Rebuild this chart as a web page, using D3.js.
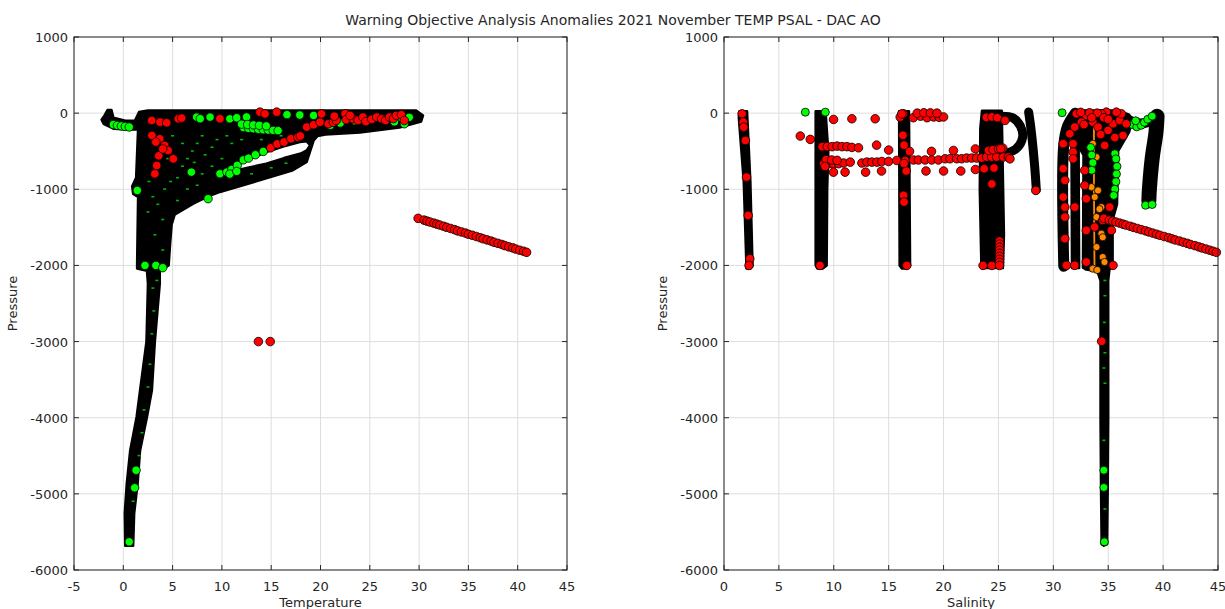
<!DOCTYPE html>
<html><head><meta charset="utf-8">
<script src="https://cdn.jsdelivr.net/npm/d3@7/dist/d3.min.js"></script>
<style>
body{margin:0;background:#fff;}
svg{display:block;}
text{font-family:"DejaVu Sans",sans-serif;fill:#262626;}
</style>
</head><body>
<svg id="c" width="1225" height="609"></svg>
<script>
// ---------------- DATA ----------------
const titleText = "Warning Objective Analysis Anomalies 2021 November TEMP PSAL - DAC AO";
const tempTicks = [-5,0,5,10,15,20,25,30,35,40,45];
const psalTicks = [0,5,10,15,20,25,30,35,40,45];
const presTicks = [1000,0,-1000,-2000,-3000,-4000,-5000,-6000];

// envelope of all TEMP profiles (black mass), [temperature, pressure]
const tempEnvelope = [[0.2,-5680],[0.15,-5250],[0.35,-4870],[0.7,-4430],[1.35,-3990],[1.7,-3640],[2.35,-3000],[2.5,-2240],[2.4,-2070],[1.4,-2040],[1.4,-1990],[1.5,-1100],[1.0,-1060],[0.9,-960],[1.3,-850],[1.5,-210],[0.5,-215],[-1.0,-205],[-2.0,-140],[-2.2,-85],[-1.9,-30],[-1.6,40],[-1.2,40],[-1.0,-60],[0.2,-100],[1.2,-95],[1.6,15],[2.5,35],[10,35],[20,35],[29.7,35],[30.4,-30],[30.2,-110],[28,-190],[24,-255],[20.5,-280],[19.7,-300],[19.3,-360],[18.6,-640],[17.2,-750],[13.9,-880],[9.8,-1035],[8.5,-1100],[7.1,-1190],[5.2,-1335],[4.9,-1465],[4.75,-1710],[4.6,-2000],[3.7,-2070],[3.7,-2240],[3.2,-3000],[2.9,-3640],[2.4,-3990],[1.7,-4430],[1.45,-4870],[1.1,-5260],[1.0,-5680]];
// empty lens between the two thermocline branches
const tempLens = [[9.4,-818],[10.5,-740],[11.8,-664],[13.2,-580],[14.5,-512],[16.2,-440],[17.9,-380],[18.6,-370],[18.95,-420],[18.6,-490],[18.0,-530],[16.3,-590],[14.5,-664],[12.5,-720],[11.0,-770],[9.9,-815]];

const tempRed = [[2.88,-96],[3.72,-118],[4.4,-127],[5.58,-74],[5.92,-65],[2.9,-293],[3.7,-337],[4.2,-425],[4.55,-490],[5.07,-600],[3.6,-560],[3.39,-687],[3.2,-797],[3.3,-380],[4.0,-470],[9.8,-74],[13.86,13],[14.37,-9],[15.56,13],[14.95,-455],[15.6,-405],[16.3,-380],[17.0,-336],[17.7,-315],[17.95,-300],[18.6,-183],[19.3,-153],[19.95,-118],[20.1,-9],[20.8,-140],[21.3,-120],[21.6,-95],[22.5,-9],[22.6,-85],[23.3,-75],[23.8,-95],[24.3,-52],[24.6,-110],[25.2,-80],[25.7,-52],[26.2,-75],[26.6,-95],[27.0,-52],[27.4,-70],[27.7,-30],[28.2,-21],[28.5,-96],[21.4,-40],[23.0,-30]];
const tempGreen = [[-1.0,-150],[-0.6,-160],[-0.2,-168],[0.2,-175],[0.6,-182],[1.42,-1015],[7.44,-52],[7.8,-73],[8.8,-52],[10.8,-75],[11.5,-60],[12.5,-50],[12.2,-190],[12.7,-200],[13.2,-205],[13.7,-212],[14.2,-218],[14.7,-222],[15.2,-226],[15.7,-230],[12.0,-145],[12.6,-150],[13.2,-155],[13.8,-160],[14.5,-168],[16.6,-20],[17.9,-25],[19.3,-30],[21.0,-160],[22.0,-130],[23.5,-100],[26.5,-80],[28.0,-50],[29.0,-55],[28.5,-140],[27.5,-115],[9.8,-796],[10.5,-774],[11.0,-738],[11.56,-686],[12.17,-614],[12.7,-591],[13.4,-547],[14.2,-503],[10.8,-800],[11.5,-765],[8.6,-1124],[6.9,-775],[2.2,-2000],[3.3,-2000],[4.0,-2030],[1.3,-4690],[1.15,-4920],[0.6,-5630]];
const tempGreenMinor = [[3.0,-1100],[3.5,-1200],[4.2,-1000],[4.8,-900],[5.5,-850],[6.0,-700],[6.5,-600],[7.0,-500],[7.5,-400],[8.0,-300],[5.0,-300],[6.0,-400],[7.2,-650],[8.3,-550],[9.0,-450],[9.5,-350],[10.5,-300],[11.0,-400],[12.0,-350],[8.0,-800],[9.0,-700],[10.0,-600],[6.5,-1000],[7.5,-950],[5.5,-1150],[4.0,-1400],[3.2,-1600],[4.0,-1800],[2.5,-1300],[3.5,-700],[2.6,-900],[4.5,-600],[13.0,-800],[15.0,-720],[16.5,-660],[14.0,-350],[16.0,-300],[3.0,-2300],[3.1,-2600],[2.9,-2900],[2.7,-3300],[2.5,-3600],[2.1,-3900],[1.9,-4200],[1.6,-4500],[1.0,-5100],[3.4,-2200]];
const tempRedDeep = [[13.7,-3000],[14.9,-3000]];

// one anomalous profile seen in both panels
const outlierPres = [-1382,-1405,-1418,-1430,-1445,-1458,-1470,-1486,-1500,-1515,-1530,-1546,-1560,-1575,-1590,-1604,-1620,-1636,-1650,-1665,-1680,-1696,-1710,-1725,-1740,-1756,-1770,-1785,-1800,-1814,-1828];
const outlierTemp = [29.9,30.5,30.8,31.1,31.5,31.8,32.1,32.5,32.8,33.2,33.6,33.9,34.3,34.7,35.0,35.4,35.8,36.2,36.5,36.9,37.3,37.6,38.0,38.4,38.7,39.1,39.5,39.8,40.2,40.6,40.9];
const outlierPsal = [34.6,35.1,35.4,35.7,36.05,36.35,36.6,37.0,37.3,37.65,38.0,38.4,38.7,39.05,39.4,39.7,40.1,40.5,40.8,41.1,41.5,41.85,42.2,42.5,42.9,43.25,43.55,43.9,44.25,44.55,44.85];

// PSAL profile groups (black), [salinity, pressure]
const psalEnvelopes = [
  [[1.4,25],[2.1,25],[2.4,-900],[2.6,-2000],[2.4,-2040],[2.05,-2040],[1.8,-900],[1.35,-60]],
  [[8.35,25],[9.25,25],[9.5,-500],[9.4,-1000],[9.35,-2000],[9.0,-2040],[8.5,-2040],[8.35,-2000]],
  [[15.95,25],[16.85,25],[16.95,-2000],[16.7,-2040],[16.2,-2040],[16.0,-2000]],
  [[23.5,30],[25.3,30],[25.5,-1600],[25.4,-2035],[23.45,-2035],[23.3,-1000],[23.35,-200]],
  [[31.65,-300],[32.3,-300],[32.35,-2035],[31.7,-2035]],
  [[31.95,35],[35.9,35],[36.9,-20],[37.2,-100],[36.9,-250],[35.9,-500],[35.8,-1200],[35.4,-1400],[35.4,-2000],[35.1,-2060],[35.0,-2200],[35.0,-4000],[34.95,-5000],[34.9,-5660],[34.6,-5680],[34.4,-5660],[34.35,-5000],[34.3,-4000],[34.3,-2200],[34.0,-2075],[33.0,-2055],[32.7,-2030],[32.75,-550],[31.75,-300],[31.75,-100]]
];
const psalProfiles = [
  [[25.2,-40],[26.3,-60],[27.0,-170],[27.2,-320],[26.6,-470],[25.4,-540]],
  [[27.75,15],[28.0,-250],[28.3,-700],[28.45,-1010]],
  [[30.95,-2010],[30.95,-420],[31.3,-170],[32.0,0]],
  [[39.45,-40],[39.35,-250],[39.0,-600],[38.75,-1000],[38.7,-1150]],
  [[36.5,-60],[37.6,-130],[38.6,-120],[39.3,-60]]
];
const psalOrangeTrace = [[33.7,-140],[33.7,-1000],[33.75,-2020]];

const psalRed = [[1.65,-9],[1.75,-118],[1.8,-184],[1.95,-359],[2.05,-840],[2.2,-1343],[2.35,-1912],[2.28,-2000],[6.95,-301],[7.86,-345],[8.75,-2000],
 [9.98,-83],[11.65,-74],[13.77,-74],[16.05,-52],[16.35,-9],[17.25,-60],[17.9,-40],[18.5,-60],[19.1,-50],[19.6,-55],[20.0,-50],[17.6,0],[18.2,5],[18.8,3],[19.4,0],
 [8.95,-440],[9.4,-440],[9.85,-440],[10.3,-433],[10.75,-440],[11.2,-440],[11.65,-450],[12.25,-455],[13.9,-420],[15.0,-485],
 [9.07,-664],[9.53,-664],[9.98,-664],[10.44,-664],[10.9,-655],[11.5,-643],[12.56,-655],[13.02,-643],[13.47,-643],[13.93,-643],[14.38,-635],[14.99,-635],[15.74,-621],[16.5,-621],[17.26,-615],[17.71,-615],[18.32,-615],[18.92,-615],[19.53,-615],[20.14,-599],[20.59,-599],[21.2,-599],[21.65,-599],[22.1,-590],[22.56,-590],[23.02,-590],[23.47,-590],[23.92,-577],[24.38,-577],[24.83,-577],[25.44,-577],[25.9,-577],
 [9.3,-610],[9.8,-615],[10.3,-620],[9.2,-700],[9.97,-775],[11.03,-775],[12.9,-775],[14.35,-760],[16.6,-760],[18.4,-760],[20.0,-760],[21.57,-760],[22.9,-740],[23.7,-730],[24.6,-720],
 [16.9,-502],[18.9,-502],[20.9,-490],[22.9,-470],[24.1,-490],[24.5,-480],[25.0,-470],[25.4,-460],
 [16.2,-10],[16.3,-290],[16.4,-420],[16.4,-660],[16.35,-1080],[16.4,-1168],[16.65,-2000],
 [23.6,-2000],[24.4,-2000],[25.1,-1680],[25.1,-1720],[25.1,-1760],[25.1,-1800],[25.1,-1840],[25.1,-1880],[25.1,-1920],[25.1,-1960],[25.1,-2000],
 [23.9,-55],[24.4,-50],[24.9,-60],[25.6,-96],[26.05,-600],[25.2,-467],[24.4,-930],[28.4,-1015],
 [30.9,-402],[30.9,-730],[31.05,-883],[30.9,-1102],[31.05,-1234],[31.05,-1365],[31.05,-1649],[31.2,-1999],[31.95,-1999],[31.8,-402],[31.8,-512],[31.8,-599],[31.95,-1234],[32.86,-752],[32.86,-949],[33.0,-1124],[33.0,-1540],[33.0,-1955],[33.77,-1496],[34.5,-1408],[35.13,-1234],[35.29,-1540],[35.44,-1999],
 [32.1,-9],[33.0,-31],[33.6,-118],[34.07,-183],[34.68,-424],[34.98,-227],[35.44,-140],[36.05,-96],[36.35,-293],[36.65,-140],[36.2,-9],[35.74,13],[34.83,13],[34.38,-9],[32.56,-118],[31.95,-183],[31.5,-271],
 [32.5,10],[33.3,5],[34.0,0],[34.6,-60],[35.0,-80],[33.5,-60],[32.8,-150],[34.3,-280],[35.6,-320],[34.4,-2996]];
const psalGreen = [[7.41,13],[9.23,13],[30.8,5],[35.6,-533],[35.7,-600],[35.8,-700],[35.75,-800],[35.7,-900],[35.6,-1000],[35.5,-1080],[33.4,-450],[33.5,-550],[33.6,-650],[33.5,-750],
 [37.2,-150],[37.6,-180],[38.0,-160],[38.3,-120],[38.6,-80],[39.0,-40],[37.5,-100],[38.4,-1210],[39.0,-1200],[34.6,-4690],[34.6,-4916],[34.65,-5630]];
const psalGreenMinor = [[34.7,-2200],[34.7,-2400],[34.65,-2750],[34.7,-3150],[34.6,-3350],[34.7,-3550],[34.6,-4300],[34.7,-5200]];
const psalOrange = [[33.6,-402],[33.93,-577],[33.47,-971],[34.07,-1015],[33.77,-1102],[34.38,-1234],[34.2,-1260],[33.93,-1365],[34.5,-1408],[34.38,-1583],[34.5,-1630],[33.93,-1759],[34.5,-1890],[34.66,-1955],[33.6,-2042],[34.0,-2060]];

// ---------------- DRAWING ----------------
const svg = d3.select("#c");
const yTop = 37, yBot = 570;
const panels = [
  {x0:74, x1:567, dom:[-5,45], ticks:tempTicks, xlabel:"Temperature"},
  {x0:724, x1:1218, dom:[0,45], ticks:psalTicks, xlabel:"Salinity"}
];
const y = d3.scaleLinear().domain([-6000,1000]).range([yBot,yTop]);
const RED="#ff0000", GREEN="#00ff00", ORANGE="#ff8c00";

svg.append("text").attr("x",613).attr("y",25).attr("text-anchor","middle")
  .style("font-size","14px").text(titleText);

panels.forEach((p,i)=>{
  const x = d3.scaleLinear().domain(p.dom).range([p.x0,p.x1]);
  p.x = x;
  const g = svg.append("g");
  g.selectAll(".gx").data(p.ticks).enter().append("line")
    .attr("x1",d=>x(d)).attr("x2",d=>x(d)).attr("y1",yTop).attr("y2",yBot)
    .attr("stroke","#dedede").attr("stroke-width",1);
  g.selectAll(".gy").data(presTicks).enter().append("line")
    .attr("x1",p.x0).attr("x2",p.x1).attr("y1",d=>y(d)).attr("y2",d=>y(d))
    .attr("stroke","#dedede").attr("stroke-width",1);
});

const xT = panels[0].x, xS = panels[1].x;
const lineT = d3.line().x(d=>xT(d[0])).y(d=>y(d[1]));
const lineS = d3.line().x(d=>xS(d[0])).y(d=>y(d[1]));

svg.append("path")
  .attr("d", lineT(tempEnvelope)+"Z"+lineT(tempLens)+"Z")
  .attr("fill","#000").attr("fill-rule","evenodd")
  .attr("stroke","#000").attr("stroke-width",2.5).attr("stroke-linejoin","round");

psalEnvelopes.forEach(env=>{
  svg.append("path").attr("d", lineS(env)+"Z")
    .attr("fill","#000").attr("stroke","#000").attr("stroke-width",2.5).attr("stroke-linejoin","round");
});
const psalWidths = [9,9,11,15,10];
const curveS = d3.line().x(d=>xS(d[0])).y(d=>y(d[1])).curve(d3.curveCatmullRom);
psalProfiles.forEach((pr,i)=>{
  svg.append("path").attr("d", curveS(pr)).attr("fill","none")
    .attr("stroke","#000").attr("stroke-width",psalWidths[i])
    .attr("stroke-linecap","round").attr("stroke-linejoin","round");
});
svg.append("path").attr("d", lineS(psalOrangeTrace)).attr("fill","none")
  .attr("stroke",ORANGE).attr("stroke-width",1.8);

function dots(data, xs, color){
  svg.append("g").selectAll("rect").data(data).enter().append("rect")
    .attr("x",d=>xs(d[0])-1.5).attr("y",d=>y(d[1])-1).attr("width",3).attr("height",1.6)
    .attr("fill",color);
}
dots(tempGreenMinor, xT, "#00b400");
dots(psalGreenMinor, xS, "#00b400");

function markers(data, xs, color, r){
  svg.append("g").selectAll("circle").data(data).enter().append("circle")
    .attr("cx",d=>xs(d[0])).attr("cy",d=>y(d[1])).attr("r",r)
    .attr("fill",color).attr("stroke","#000").attr("stroke-width",0.8);
}
markers(tempGreen, xT, GREEN, 4.2);
markers(tempRed, xT, RED, 4.3);
markers(tempRedDeep, xT, RED, 4.3);
markers(outlierPres.map((pp,i)=>[outlierTemp[i],pp]), xT, RED, 4.3);

markers(psalOrange, xS, ORANGE, 3.6);
markers(psalGreen, xS, GREEN, 4.0);
markers(psalRed, xS, RED, 4.3);
markers(outlierPres.map((pp,i)=>[outlierPsal[i],pp]), xS, RED, 4.3);

panels.forEach((p,i)=>{
  const x = p.x;
  const g = svg.append("g");
  g.append("rect").attr("x",p.x0).attr("y",yTop).attr("width",p.x1-p.x0).attr("height",yBot-yTop)
    .attr("fill","none").attr("stroke","#262626").attr("stroke-width",1);
  const tl = 5;
  p.ticks.forEach(t=>{
    g.append("line").attr("x1",x(t)).attr("x2",x(t)).attr("y1",yBot).attr("y2",yBot-tl).attr("stroke","#262626");
    g.append("line").attr("x1",x(t)).attr("x2",x(t)).attr("y1",yTop).attr("y2",yTop+tl).attr("stroke","#262626");
    g.append("text").attr("x",x(t)).attr("y",591).attr("text-anchor","middle")
      .style("font-size","13px").text(String(t));
  });
  presTicks.forEach(t=>{
    g.append("line").attr("x1",p.x0).attr("x2",p.x0+tl).attr("y1",y(t)).attr("y2",y(t)).attr("stroke","#262626");
    g.append("line").attr("x1",p.x1).attr("x2",p.x1-tl).attr("y1",y(t)).attr("y2",y(t)).attr("stroke","#262626");
    g.append("text").attr("x",p.x0-6).attr("y",y(t)+5).attr("text-anchor","end")
      .style("font-size","13px").text(String(t));
  });
  g.append("text").attr("x",(p.x0+p.x1)/2).attr("y",607).attr("text-anchor","middle")
    .style("font-size","13px").text(p.xlabel);
  g.append("text").attr("transform",`translate(${p.x0-57},${(yTop+yBot)/2}) rotate(-90)`)
    .attr("text-anchor","middle").style("font-size","13px").text("Pressure");
});
</script>
</body></html>
